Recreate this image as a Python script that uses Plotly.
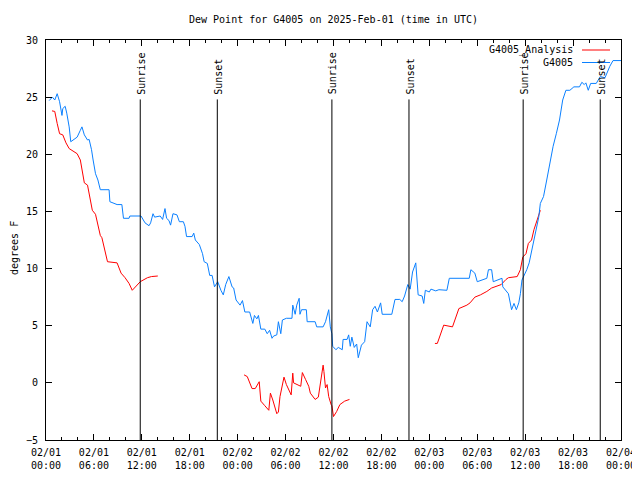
import pandas as pd
import plotly.graph_objects as go

# ---------------- data ----------------
base = pd.Timestamp("2025-02-01 00:00")

station_hours = [0.4, 0.8, 1.1, 1.4, 1.7, 2.0, 2.1, 2.4, 2.6, 2.9, 3.1, 3.5, 3.9, 4.3, 4.5, 4.8, 5.2, 5.4, 5.7, 5.9,
                 6.2, 6.5, 6.8, 7.9, 8.0, 8.9, 9.5, 9.7, 10.4, 10.5, 11.9, 12.4, 12.9, 13.1, 13.4, 13.6, 14.3, 14.6,
                 14.9, 15.1, 15.4, 15.6, 15.9, 16.4, 16.7, 17.2, 17.4, 17.6, 18.3, 18.5, 18.7, 19.2, 19.6, 19.8,
                 20.2, 20.5, 20.8, 21.1, 21.5, 21.9, 22.2, 22.5, 22.9, 23.3, 23.5, 23.8, 24.3, 24.6, 24.9, 25.5,
                 25.6, 25.9, 26.1, 26.4, 26.6, 26.9, 27.4, 27.7, 28.0, 28.3, 28.5, 28.9, 29.1, 29.4, 29.6, 30.1,
                 30.8, 30.9, 31.2, 31.4, 31.7, 31.8, 32.0, 32.6, 32.7, 33.7, 33.9, 34.7, 35.0, 35.3, 35.4, 35.6,
                 35.8, 35.9, 36.3, 36.6, 37.1, 37.2, 37.7, 37.9, 38.1, 38.3, 38.6, 38.9, 39.1, 39.5, 39.9, 40.2,
                 40.6, 40.9, 41.2, 41.5, 41.9, 42.1, 42.5, 43.3, 43.7, 44.3, 44.6, 44.9, 45.3, 45.6, 45.9, 46.3,
                 46.6, 47.1, 47.3, 47.5, 48.0, 48.2, 48.8, 49.2, 50.2, 50.5, 53.0, 53.2, 53.7, 54.0, 55.2, 55.4,
                 55.8, 56.0, 57.1, 57.2, 57.9, 58.1, 58.3, 58.6, 58.9, 59.2, 59.4, 59.6, 59.9, 60.2, 60.5, 60.8,
                 61.3, 61.7, 61.9, 62.3, 62.7, 63.1, 63.5, 63.9, 64.3, 64.7, 65.1, 65.6, 66.1, 66.8, 67.1, 67.4,
                 67.6, 67.9, 68.2, 68.9, 69.4, 70.0, 70.2, 70.6, 71.0, 72.0]
station_dewpt = [24.7, 25.0, 24.75, 25.3, 24.6, 23.4, 24.0, 24.2, 23.6, 22.4, 21.1, 21.3, 21.5, 22.1, 22.4, 21.7,
                 21.25, 21.3, 20.4, 19.5, 18.3, 17.75, 16.9, 16.9, 15.85, 15.6, 15.6, 14.4, 14.4, 14.6, 14.6, 14.0,
                 13.75, 14.0, 14.8, 14.5, 14.6, 14.3, 15.25, 14.4, 14.2, 13.8, 14.8, 14.7, 14.1, 14.1, 13.7, 12.8,
                 12.8, 13.1, 12.5, 12.1, 11.3, 10.6, 10.45, 9.4, 9.4, 8.4, 8.85, 8.1, 7.7, 8.6, 9.3, 8.4, 8.3, 7.25,
                 6.8, 7.2, 6.2, 6.2, 5.95, 5.2, 5.9, 5.6, 5.9, 4.7, 4.7, 4.3, 4.6, 3.9, 4.1, 4.2, 5.35, 4.3, 5.5,
                 5.65, 5.65, 6.8, 6.0, 6.8, 7.4, 6.0, 6.4, 6.4, 5.35, 5.35, 4.9, 4.9, 5.35, 6.1, 6.4, 4.9, 4.3, 3.2,
                 2.9, 3.1, 2.9, 3.8, 3.8, 4.2, 3.2, 4.0, 3.1, 3.4, 2.2, 3.3, 3.6, 5.35, 4.9, 6.4, 6.7, 6.2, 7.0,
                 6.0, 6.0, 6.0, 7.3, 7.3, 7.1, 7.6, 8.6, 8.2, 9.7, 10.5, 7.7, 7.6, 6.95, 8.1, 7.95, 8.2, 8.05, 8.15,
                 8.1, 9.15, 9.15, 9.9, 9.6, 8.85, 9.15, 9.9, 9.9, 8.85, 9.15, 8.4, 7.8, 6.95, 6.4, 6.95, 6.4, 7.0,
                 7.8, 9.0, 9.4, 9.9, 10.5, 11.5, 13.1, 14.5, 15.7, 16.3, 17.75, 19.2, 20.7, 21.8, 23.0, 24.75, 25.6,
                 25.6, 25.9, 25.9, 26.3, 26.1, 26.25, 25.6, 26.2, 26.2, 26.8, 26.7, 27.1, 27.7, 28.2, 28.2]

analysis_hours = [0.75, 1.1, 1.4, 1.7, 2.1, 2.5, 2.9, 3.7, 3.9, 4.3, 4.6, 4.8, 5.2, 5.5, 5.8, 6.2, 6.8, 7.0, 7.3,
                  7.7, 8.9, 9.4, 9.9, 10.4, 10.8, 11.2, 11.8, 12.7, 13.2, 14.0, None,
                  24.8, 25.2, 25.8, 26.2, 26.7, 26.9, 27.4, 27.9, 28.1, 28.4, 28.9, 29.1, 29.3, 29.8, 30.1, 30.7,
                  30.9, 31.0, 31.9, 32.1, 32.5, 32.9, 33.1, 33.7, 34.1, 34.4, 34.7, 34.8, 35.0, 35.2, 35.4, 35.7,
                  35.8, 36.0, 36.4, 36.8, 37.4, 38.0, None,
                  48.7, 49.0, 49.8, 50.4, 50.9, 51.7, 52.1, 52.7, 53.1, 53.7, 54.4, 55.2, 55.8, 56.4, 57.0, 57.6,
                  57.9, 59.0, 59.4, 59.7, 60.1, 60.4, 60.8, 61.1, 61.5, 61.9]
analysis_dewpt = [23.8, 23.75, 22.7, 21.8, 21.7, 21.0, 20.5, 20.2, 20.05, 19.5, 18.3, 17.5, 17.3, 16.0, 15.1, 14.75,
                  12.9, 12.7, 11.9, 10.6, 10.5, 9.6, 9.2, 8.7, 8.1, 8.4, 8.85, 9.2, 9.3, 9.35, None,
                  0.7, 0.55, -0.5, -0.5, 0.1, -1.6, -2.0, -2.4, -0.9, -1.5, -2.7, -2.55, -1.2, 0.5, -0.15, -1.05,
                  0.85, 0.0, -0.3, 0.9, 0.3, -0.3, -0.9, -1.45, -1.25, 0.1, 1.55, 1.0, -0.45, -0.15, -1.2, -1.9,
                  -2.0, -2.95, -2.5, -1.9, -1.6, -1.45, None,
                  3.45, 3.45, 5.05, 4.95, 4.9, 6.5, 6.6, 6.8, 7.0, 7.5, 7.7, 8.0, 8.3, 8.45, 8.6, 9.05, 9.2, 9.3,
                  9.9, 11.0, 11.3, 12.2, 12.5, 13.4, 14.25, 15.1]

sun_hours = [11.8, 21.45, 35.8, 45.45, 59.75, 69.4]
sun_labels = ["Sunrise", "Sunset", "Sunrise", "Sunset", "Sunrise", "Sunset"]
sun_line_top = 24.8

tick_hours = list(range(0, 73, 6))
y_ticks = [-5, 0, 5, 10, 15, 20, 25, 30]

series_names = ["G4005_Analysis", "G4005"]
series_colors = ["#ff0000", "#0a80ff"]

title_text = "Dew Point for G4005 on 2025-Feb-01 (time in UTC)"
y_title = "degrees F"

# ---------------- build ----------------
def to_time(hours):
    return [None if h is None else base + pd.Timedelta(hours=h) for h in hours]

FONT = "DejaVu Sans Mono"
# page has an 8px body margin; size the figure so the plot area sits at x 46..621, y 40..440 of the window
W, H = 632, 472
ML, MR, MT, MB = 38, 19, 32, 40

fig = go.Figure()

fig.add_trace(go.Scatter(x=to_time(analysis_hours), y=analysis_dewpt, mode="lines",
                         line=dict(color=series_colors[0], width=1), connectgaps=False,
                         name=series_names[0], showlegend=False))
fig.add_trace(go.Scatter(x=to_time(station_hours), y=station_dewpt, mode="lines",
                         line=dict(color=series_colors[1], width=1),
                         name=series_names[1], showlegend=False))

for h, lab in zip(sun_hours, sun_labels):
    t = base + pd.Timedelta(hours=h)
    fig.add_shape(type="line", xref="x", yref="y", x0=t, x1=t, y0=-5, y1=sun_line_top,
                  line=dict(color="black", width=1))
    fig.add_annotation(x=t, y=sun_line_top, xref="x", yref="y", text=lab, textangle=-90,
                       showarrow=False, yanchor="bottom", xanchor="center", yshift=3, xshift=1,
                       font=dict(family=FONT, size=10, color="black"))

# manual legend (symbols on the right, like the reference)
for i, (nm, col) in enumerate(zip(series_names, series_colors)):
    ypix = 50 + i * 12.5
    yp = (440 - ypix) / 400
    fig.add_annotation(x=(575 - 46) / 575, y=yp, xref="paper", yref="paper", text=nm,
                       showarrow=False, xanchor="right", yanchor="middle",
                       font=dict(family=FONT, size=10, color="black"))
    fig.add_shape(type="line", xref="paper", yref="paper",
                  x0=(582 - 46) / 575, x1=(610 - 46) / 575, y0=yp, y1=yp,
                  line=dict(color=col, width=1))

tick_times = [base + pd.Timedelta(hours=h) for h in tick_hours]
tick_text = [t.strftime("%m/%d") + "<br>" + t.strftime("%H:%M") for t in tick_times]

fig.update_layout(
    width=W, height=H,
    margin=dict(l=ML, r=MR, t=MT, b=MB, autoexpand=False),
    paper_bgcolor="white", plot_bgcolor="white",
    font=dict(family=FONT, size=10, color="black"),
    title=dict(text=title_text, x=0.5, xref="paper", y=1 - 11 / H, yref="container",
               xanchor="center", yanchor="middle", automargin=False,
               font=dict(family=FONT, size=10, color="black")),
    showlegend=False,
)
fig.update_xaxes(
    type="date", automargin=False,
    range=[base, base + pd.Timedelta(hours=72)],
    tickmode="array", tickvals=tick_times, ticktext=tick_text,
    ticks="inside", ticklen=6, tickcolor="black", tickwidth=1,
    minor=dict(ticks="inside", ticklen=3, dtick=2 * 3600 * 1000, tickcolor="black", showgrid=False),
    showline=True, linecolor="black", linewidth=1, mirror="ticks",
    showgrid=False, zeroline=False, ticklabelstandoff=3,
    tickfont=dict(family=FONT, size=10, color="black"),
)
fig.update_yaxes(
    automargin=False,
    range=[-5, 30], tickmode="array", tickvals=y_ticks,
    ticks="inside", ticklen=6, tickcolor="black", tickwidth=1,
    showline=True, linecolor="black", linewidth=1, mirror="ticks",
    showgrid=False, zeroline=False, ticklabelstandoff=5,
    tickfont=dict(family=FONT, size=10, color="black"),
)
fig.add_annotation(x=(14 - 46) / 575, y=(440 - 248) / 400, xref="paper", yref="paper",
                   text=y_title, textangle=-90, showarrow=False, xanchor="center", yanchor="middle",
                   font=dict(family=FONT, size=10, color="black"))

fig.write_html("out.html")
